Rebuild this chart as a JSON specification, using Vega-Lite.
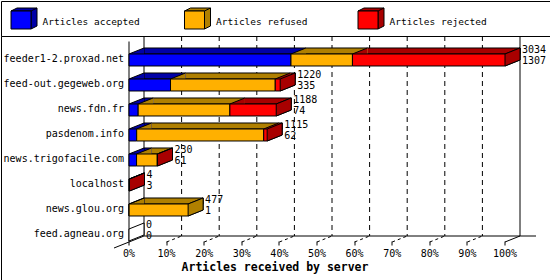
{
 "$schema": "https://vega.github.io/schema/vega-lite/v6.json",
 "padding": 0,
 "spacing": 0,
 "bounds": "flush",
 "background": "white",
 "config": {
  "font": "DejaVu Sans Mono",
  "view": {"stroke": "black", "strokeWidth": 1, "fill": "white"},
  "axis": {"grid": false, "labelFont": "DejaVu Sans Mono", "titleFont": "DejaVu Sans Mono"}
 },
 "datasets": {
  "cats": [{"category": "Articles accepted"}, {"category": "Articles refused"}, {"category": "Articles rejected"}],
  "segs": [
   {"host": "feeder1-2.proxad.net", "category": "Articles accepted", "value": 1307},
   {"host": "feeder1-2.proxad.net", "category": "Articles refused", "value": 496},
   {"host": "feeder1-2.proxad.net", "category": "Articles rejected", "value": 1231},
   {"host": "feed-out.gegeweb.org", "category": "Articles accepted", "value": 335},
   {"host": "feed-out.gegeweb.org", "category": "Articles refused", "value": 845},
   {"host": "feed-out.gegeweb.org", "category": "Articles rejected", "value": 40},
   {"host": "news.fdn.fr", "category": "Articles accepted", "value": 74},
   {"host": "news.fdn.fr", "category": "Articles refused", "value": 740},
   {"host": "news.fdn.fr", "category": "Articles rejected", "value": 374},
   {"host": "pasdenom.info", "category": "Articles accepted", "value": 62},
   {"host": "pasdenom.info", "category": "Articles refused", "value": 1025},
   {"host": "pasdenom.info", "category": "Articles rejected", "value": 28},
   {"host": "news.trigofacile.com", "category": "Articles accepted", "value": 61},
   {"host": "news.trigofacile.com", "category": "Articles refused", "value": 167},
   {"host": "news.trigofacile.com", "category": "Articles rejected", "value": 2},
   {"host": "localhost", "category": "Articles accepted", "value": 3},
   {"host": "localhost", "category": "Articles refused", "value": 0},
   {"host": "localhost", "category": "Articles rejected", "value": 1},
   {"host": "news.glou.org", "category": "Articles accepted", "value": 1},
   {"host": "news.glou.org", "category": "Articles refused", "value": 476},
   {"host": "news.glou.org", "category": "Articles rejected", "value": 0},
   {"host": "feed.agneau.org", "category": "Articles accepted", "value": 0},
   {"host": "feed.agneau.org", "category": "Articles refused", "value": 0},
   {"host": "feed.agneau.org", "category": "Articles rejected", "value": 0}
  ],
  "hosts": [
   {"host": "feeder1-2.proxad.net", "total": 3034, "accepted": 1307},
   {"host": "feed-out.gegeweb.org", "total": 1220, "accepted": 335},
   {"host": "news.fdn.fr", "total": 1188, "accepted": 74},
   {"host": "pasdenom.info", "total": 1115, "accepted": 62},
   {"host": "news.trigofacile.com", "total": 230, "accepted": 61},
   {"host": "localhost", "total": 4, "accepted": 3},
   {"host": "news.glou.org", "total": 477, "accepted": 1},
   {"host": "feed.agneau.org", "total": 0, "accepted": 0}
  ],
  "ticks": [{"v": 303.4}, {"v": 606.8}, {"v": 910.2}, {"v": 1213.6}, {"v": 1517}, {"v": 1820.4}, {"v": 2123.8}, {"v": 2427.2}, {"v": 2730.6}]
 },
 "vconcat": [
  {
   "width": 549,
   "height": 35,
   "data": {"name": "cats"},
   "encoding": {"x": {"field": "category", "type": "nominal", "scale": {"type": "point", "range": [19.5, 366.5], "padding": 0}, "axis": null}},
   "layer": [
    {"mark": {"type": "point", "shape": "M-9.5,-7.5L-3.5,-10.5H16.5V7.5L10.5,10.5V-7.5ZM10.5,-7.5L16.5,-10.5", "size": 4, "filled": true, "opacity": 1, "stroke": "black", "strokeWidth": 1},
     "encoding": {"fill": {"field": "category", "type": "nominal", "scale": {"domain": ["Articles accepted", "Articles refused", "Articles rejected"], "range": ["#0000a8", "#b08000", "#a80000"]}, "legend": null}}},
    {"mark": {"type": "point", "shape": "M-9.5,-7.5H10.5V10.5H-9.5Z", "size": 4, "filled": true, "opacity": 1, "stroke": "black", "strokeWidth": 1},
     "encoding": {"color": {"field": "category", "type": "nominal", "scale": {"domain": ["Articles accepted", "Articles refused", "Articles rejected"], "range": ["#0000ff", "#ffb000", "#ff0000"]}, "legend": null}}},
    {"mark": {"type": "text", "align": "left", "baseline": "alphabetic", "dx": 22, "dy": 6, "fontSize": 9.5, "color": "black"},
     "encoding": {"text": {"field": "category", "type": "nominal"}}}
   ]
  },
  {
   "width": 549,
   "height": 244,
   "layer": [
    {
     "data": {"values": [{}]},
     "layer": [
      {"data": {"name": "ticks"},
       "mark": {"type": "rule", "color": "black", "strokeDash": [5, 4], "xOffset": 15},
       "encoding": {
        "x": {"field": "v", "type": "quantitative", "scale": {"domain": [0, 3034], "range": [128, 504], "nice": false, "zero": false},
         "axis": {"orient": "bottom", "offset": -38.5, "translate": 0, "values": [0, 303.4, 606.8, 910.2, 1213.6, 1517, 1820.4, 2123.8, 2427.2, 2730.6, 3034], "labelExpr": "format(datum.value/3034, '.0%')", "domain": false, "grid": false, "ticks": true, "tickSize": 4, "tickColor": "black", "labelPadding": 3, "labelFontSize": 10, "labelColor": "black", "labelFlush": false, "labelOverlap": false, "title": "Articles received by server", "titleFontSize": 11.5, "titleFontWeight": "bold", "titleColor": "black", "titleX": 274, "titleY": 29, "titleAlign": "center", "titleBaseline": "alphabetic"}},
        "y": {"datum": 0, "type": "quantitative", "scale": {"domain": [0, 1], "range": [0, 200], "nice": false, "zero": false}, "axis": null},
        "y2": {"datum": 1}
       }},
      {"data": {"name": "ticks"},
       "mark": {"type": "rule", "color": "black", "strokeDash": [3, 3], "yOffset": 6, "x2Offset": 15},
       "encoding": {
        "x": {"field": "v", "type": "quantitative", "scale": {"domain": [0, 3034], "range": [128, 504], "nice": false, "zero": false}},
        "x2": {"field": "v"},
        "y": {"datum": 1, "type": "quantitative", "scale": {"domain": [0, 1], "range": [0, 200], "nice": false, "zero": false}},
        "y2": {"datum": 1}
       }},
      {"mark": {"type": "rule", "color": "black", "xOffset": 15},
       "encoding": {
        "x": {"datum": 0, "type": "quantitative", "scale": {"domain": [0, 3034], "range": [128, 504], "nice": false, "zero": false}},
        "y": {"datum": 0, "type": "quantitative", "scale": {"domain": [0, 1], "range": [0, 200], "nice": false, "zero": false}},
        "y2": {"datum": 1}
       }},
      {"mark": {"type": "rule", "color": "black", "xOffset": 15},
       "encoding": {
        "x": {"datum": 3034, "type": "quantitative", "scale": {"domain": [0, 3034], "range": [128, 504], "nice": false, "zero": false}},
        "y": {"datum": 0, "type": "quantitative", "scale": {"domain": [0, 1], "range": [0, 200], "nice": false, "zero": false}},
        "y2": {"datum": 1}
       }},
      {"mark": {"type": "rule", "color": "black", "xOffset": 15, "x2Offset": 31},
       "encoding": {
        "x": {"datum": 0, "type": "quantitative", "scale": {"domain": [0, 3034], "range": [128, 504], "nice": false, "zero": false}},
        "x2": {"datum": 3034},
        "y": {"datum": 1, "type": "quantitative", "scale": {"domain": [0, 1], "range": [0, 200], "nice": false, "zero": false}},
        "y2": {"datum": 1}
       }},
      {"mark": {"type": "rule", "color": "black", "xOffset": -15, "yOffset": 12, "x2Offset": 15},
       "encoding": {
        "x": {"datum": 0, "type": "quantitative", "scale": {"domain": [0, 3034], "range": [128, 504], "nice": false, "zero": false}},
        "x2": {"datum": 0},
        "y": {"datum": 1, "type": "quantitative", "scale": {"domain": [0, 1], "range": [0, 200], "nice": false, "zero": false}},
        "y2": {"datum": 1}
       }},
      {"mark": {"type": "rule", "color": "black", "yOffset": 6, "x2Offset": 15},
       "encoding": {
        "x": {"datum": 3034, "type": "quantitative", "scale": {"domain": [0, 3034], "range": [128, 504], "nice": false, "zero": false}},
        "x2": {"datum": 3034},
        "y": {"datum": 1, "type": "quantitative", "scale": {"domain": [0, 1], "range": [0, 200], "nice": false, "zero": false}},
        "y2": {"datum": 1}
       }}
     ]
    },
    {
     "layer": [
      {"data": {"name": "segs"},
       "transform": [{"filter": "datum.value > 0"}, {"stack": "value", "groupby": ["host"], "sort": [{"field": "category", "order": "ascending"}], "as": ["v0", "v1"]}],
       "mark": {"type": "bar", "height": 6, "xOffset": 15, "x2Offset": 15, "yOffset": -9, "y2Offset": -9, "strokeWidth": 0},
       "encoding": {
        "x": {"field": "v0", "type": "quantitative", "scale": {"domain": [0, 3034], "range": [128, 504], "nice": false, "zero": false}},
        "x2": {"field": "v1"},
        "y": {"field": "host", "type": "nominal", "scale": {"type": "band", "domain": ["feeder1-2.proxad.net", "feed-out.gegeweb.org", "news.fdn.fr", "pasdenom.info", "news.trigofacile.com", "localhost", "news.glou.org", "feed.agneau.org"], "range": [5.5, 205.5], "paddingInner": 0.52, "paddingOuter": 0.26, "align": 0.9615},
         "axis": {"orient": "left", "offset": -128, "translate": 0, "domain": true, "domainColor": "black", "ticks": false, "grid": false, "labelPadding": 5, "labelFontSize": 10, "labelColor": "black", "labelLimit": 200, "title": null}},
        "fill": {"field": "category", "type": "nominal", "scale": {"domain": ["Articles accepted", "Articles refused", "Articles rejected"], "range": ["#0000a8", "#b08000", "#a80000"]}, "legend": null}
       }},
      {"data": {"name": "hosts"},
       "transform": [{"filter": "datum.total > 0"}],
       "mark": {"type": "bar", "height": 6, "xOffset": 15, "x2Offset": 15, "yOffset": -9, "y2Offset": -9, "fill": "white", "fillOpacity": 0, "stroke": "black", "strokeWidth": 1},
       "encoding": {
        "x": {"field": "total", "type": "quantitative", "scale": {"domain": [0, 3034], "range": [128, 504], "nice": false, "zero": false}},
        "x2": {"datum": 0},
        "y": {"field": "host", "type": "nominal"}
       }},
      {"data": {"name": "hosts"},
       "mark": {"type": "point", "shape": "M0,-6L15,-12L15,0L0,6Z", "size": 4, "filled": true, "fill": "white", "opacity": 1, "stroke": "black", "strokeWidth": 1},
       "encoding": {
        "x": {"field": "total", "type": "quantitative", "scale": {"domain": [0, 3034], "range": [128, 504], "nice": false, "zero": false}},
        "y": {"field": "host", "type": "nominal"}
       }},
      {"data": {"name": "segs"},
       "transform": [{"filter": "datum.value > 0"}, {"stack": "value", "groupby": ["host"], "sort": [{"field": "category", "order": "ascending"}], "as": ["v0", "v1"]}],
       "mark": {"type": "point", "shape": "M0,-6L15,-12L15,0L0,6Z", "size": 4, "filled": true, "opacity": 1, "strokeWidth": 0},
       "encoding": {
        "x": {"field": "v1", "type": "quantitative", "scale": {"domain": [0, 3034], "range": [128, 504], "nice": false, "zero": false}},
        "y": {"field": "host", "type": "nominal"},
        "fill": {"field": "category", "type": "nominal", "legend": null}
       }},
      {"data": {"name": "segs"},
       "transform": [{"filter": "datum.value > 0"}, {"stack": "value", "groupby": ["host"], "sort": [{"field": "category", "order": "ascending"}], "as": ["v0", "v1"]}],
       "mark": {"type": "point", "shape": "M0,-6L15,-12L15,-6Z", "size": 4, "filled": true, "opacity": 1, "strokeWidth": 0},
       "encoding": {
        "x": {"field": "v0", "type": "quantitative", "scale": {"domain": [0, 3034], "range": [128, 504], "nice": false, "zero": false}},
        "y": {"field": "host", "type": "nominal"},
        "fill": {"field": "category", "type": "nominal", "legend": null}
       }},
      {"data": {"name": "segs"},
       "transform": [{"filter": "datum.value > 0"}, {"stack": "value", "groupby": ["host"], "sort": [{"field": "category", "order": "ascending"}], "as": ["v0", "v1"]}],
       "mark": {"type": "point", "shape": "M0,-6L15,-12", "size": 4, "filled": false, "opacity": 1, "stroke": "black", "strokeWidth": 1},
       "encoding": {
        "x": {"field": "v0", "type": "quantitative", "scale": {"domain": [0, 3034], "range": [128, 504], "nice": false, "zero": false}},
        "y": {"field": "host", "type": "nominal"}
       }},
      {"data": {"name": "hosts"},
       "transform": [{"filter": "datum.total > 0"}],
       "mark": {"type": "point", "shape": "M0,-6L15,-12L15,0L0,6", "size": 4, "filled": false, "opacity": 1, "stroke": "black", "strokeWidth": 1},
       "encoding": {
        "x": {"field": "total", "type": "quantitative", "scale": {"domain": [0, 3034], "range": [128, 504], "nice": false, "zero": false}},
        "y": {"field": "host", "type": "nominal"}
       }},
      {"data": {"name": "segs"},
       "transform": [{"filter": "datum.value > 0"}, {"stack": "value", "groupby": ["host"], "sort": [{"field": "category", "order": "ascending"}], "as": ["v0", "v1"]}],
       "mark": {"type": "bar", "stroke": "black", "strokeWidth": 1},
       "encoding": {
        "x": {"field": "v0", "type": "quantitative", "scale": {"domain": [0, 3034], "range": [128, 504], "nice": false, "zero": false}},
        "x2": {"field": "v1"},
        "y": {"field": "host", "type": "nominal"},
        "color": {"field": "category", "type": "nominal", "scale": {"domain": ["Articles accepted", "Articles refused", "Articles rejected"], "range": ["#0000ff", "#ffb000", "#ff0000"]}, "legend": null}
       }},
      {"data": {"name": "hosts"},
       "mark": {"type": "text", "align": "left", "baseline": "middle", "dx": 17, "dy": -10, "fontSize": 10, "color": "black"},
       "encoding": {
        "x": {"field": "total", "type": "quantitative", "scale": {"domain": [0, 3034], "range": [128, 504], "nice": false, "zero": false}},
        "y": {"field": "host", "type": "nominal"},
        "text": {"field": "total", "type": "nominal"}
       }},
      {"data": {"name": "hosts"},
       "mark": {"type": "text", "align": "left", "baseline": "middle", "dx": 17, "dy": 1, "fontSize": 10, "color": "black"},
       "encoding": {
        "x": {"field": "total", "type": "quantitative", "scale": {"domain": [0, 3034], "range": [128, 504], "nice": false, "zero": false}},
        "y": {"field": "host", "type": "nominal"},
        "text": {"field": "accepted", "type": "nominal"}
       }}
     ]
    }
   ],
   "resolve": {"scale": {"y": "independent"}}
  }
 ]
}
